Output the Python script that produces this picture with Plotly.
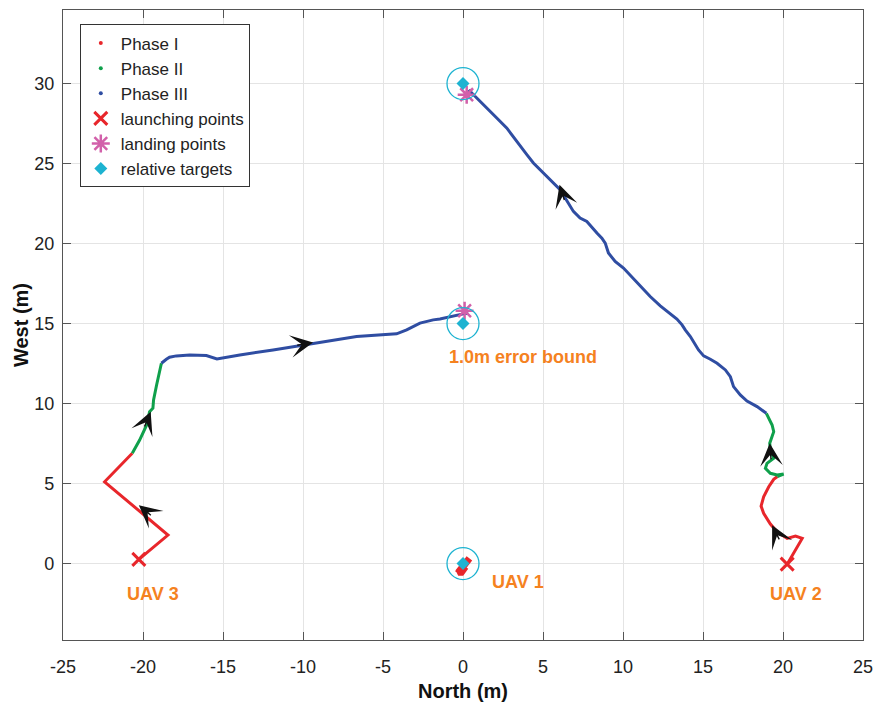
import plotly.graph_objects as go

# ---- trajectory data (North, West) in metres ----
# UAV 1 (hovers around origin)
uav1_p1_x = [-0.32, -0.20, -0.05, 0.10, 0.25, 0.40, 0.30, 0.10, -0.15, -0.30, -0.10, 0.15]
uav1_p1_y = [-0.62, -0.45, -0.25, -0.05, 0.10, 0.32, 0.15, -0.15, -0.40, -0.55, -0.55, -0.20]

# UAV 3
uav3_p1_x = [-20.26, -18.44, -22.40, -20.67]
uav3_p1_y = [0.26, 1.78, 5.11, 6.89]
uav3_p2_x = [-20.67, -20.21, -19.77, -19.59, -19.38, -19.34, -19.15, -18.92, -18.85]
uav3_p2_y = [6.89, 7.72, 8.66, 9.49, 9.71, 10.23, 11.16, 12.21, 12.52]
uav3_p3_x = [-18.85, -18.75, -18.54, -18.34, -17.92, -17.08, -16.04, -15.38, -13.95,
             -11.87, -9.37, -6.65, -4.15, -3.52, -2.69, -1.86, -1.44, -0.61, 0.23,
             0.10, 0.30, 0.20]
uav3_p3_y = [12.52, 12.62, 12.77, 12.90, 12.98, 13.04, 13.00, 12.79, 13.04,
             13.35, 13.77, 14.19, 14.36, 14.61, 15.03, 15.23, 15.28, 15.48, 15.65,
             15.72, 15.60, 15.66]

# UAV 2
uav2_p1_x = [20.26, 21.20, 20.78, 20.26, 19.63, 19.21, 18.79, 18.63, 18.79, 19.11, 19.42, 19.65]
uav2_p1_y = [-0.04, 1.57, 1.71, 1.57, 1.98, 2.47, 3.14, 3.59, 4.17, 4.80, 5.26, 5.44]
uav2_p2_x = [19.65, 20.04, 19.63, 19.21, 18.90, 19.00, 19.42, 19.21, 19.17, 19.42, 19.32, 18.96]
uav2_p2_y = [5.44, 5.59, 5.53, 5.64, 5.95, 6.26, 6.58, 7.10, 7.52, 8.24, 8.66, 9.39]
uav2_p3_x = [18.96, 18.38, 17.75, 17.33, 16.91, 16.71, 16.40, 15.88, 15.46, 15.04,
             14.72, 14.21, 13.89, 13.69, 13.37, 12.75, 12.33, 11.70, 11.08, 10.56,
             10.03, 9.51, 9.09, 8.89, 8.68, 8.37, 7.74, 7.32, 6.90, 6.07,
             5.44, 4.82, 4.40, 3.99, 3.36, 2.73, 2.11, 1.69, 1.06, 0.64,
             0.44, 0.30, 0.50, 0.40]
uav2_p3_y = [9.39, 9.81, 10.16, 10.54, 11.06, 11.68, 12.10, 12.52, 12.77, 12.98,
             13.35, 14.19, 14.61, 14.92, 15.28, 15.75, 16.11, 16.69, 17.36, 17.94,
             18.47, 18.88, 19.41, 20.03, 20.34, 20.66, 21.38, 21.60, 22.01, 23.37,
             23.99, 24.62, 25.04, 25.56, 26.39, 27.23, 27.85, 28.27, 28.89, 29.32,
             29.52, 29.45, 29.60, 29.40]

launch_x = [-20.26, 20.26]
launch_y = [0.26, -0.04]
landing_x = [0.10, 0.23]
landing_y = [15.80, 29.31]
target_x = [0.0, 0.0, 0.0]
target_y = [0.0, 15.0, 30.0]
error_bound = 1.0

# direction arrows: tip position and heading
arrow_tip_x = [-20.26, -19.52, -9.37, 19.32, 19.17, 6.03]
arrow_tip_y = [3.65, 9.49, 13.81, 2.40, 7.52, 23.68]
arrow_dir_x = [-3.96, 1.08, 2.50, -0.45, -0.08, -0.30]
arrow_dir_y = [3.33, 2.60, 0.42, 0.90, 1.00, 0.94]

x_ticks = [-25, -20, -15, -10, -5, 0, 5, 10, 15, 20, 25]
y_ticks = [0, 5, 10, 15, 20, 25, 30]

RED = "#E8262B"
GREEN = "#0FA04B"
BLUE = "#2F4DA2"
PINK = "#D260AA"
CYAN = "#1DB3D1"
ORANGE = "#F5821F"
FONT = "Liberation Sans, Arial, Helvetica, sans-serif"

fig = go.Figure()

def path(x, y, color, width=3):
    fig.add_trace(go.Scatter(x=x, y=y, mode="lines", showlegend=False,
                             line=dict(color=color, width=width), hoverinfo="skip"))

path(uav1_p1_x, uav1_p1_y, RED, 7)
for px, py, c in [(uav3_p1_x, uav3_p1_y, RED), (uav3_p2_x, uav3_p2_y, GREEN),
                  (uav3_p3_x, uav3_p3_y, BLUE), (uav2_p1_x, uav2_p1_y, RED),
                  (uav2_p2_x, uav2_p2_y, GREEN), (uav2_p3_x, uav2_p3_y, BLUE)]:
    path(px, py, c)

# legend entries for the phases (dot markers)
for name, c in [("Phase I", RED), ("Phase II", GREEN), ("Phase III", BLUE)]:
    fig.add_trace(go.Scatter(x=[None], y=[None], mode="markers", name=name,
                             marker=dict(color=c, size=4)))

fig.add_trace(go.Scatter(x=launch_x, y=launch_y, mode="markers", name="launching points",
                         marker=dict(symbol="x-thin", size=13, color=RED,
                                     line=dict(color=RED, width=3))))
fig.add_trace(go.Scatter(x=landing_x, y=landing_y, mode="markers", name="landing points",
                         marker=dict(symbol="asterisk", size=15, color=PINK,
                                     line=dict(color=PINK, width=2.5))))
fig.add_trace(go.Scatter(x=target_x, y=target_y, mode="markers", name="relative targets",
                         marker=dict(symbol="diamond", size=10, color=CYAN,
                                     line=dict(width=0))))

# 1.0 m error-bound circles around targets
for tx, ty in zip(target_x, target_y):
    fig.add_shape(type="circle", xref="x", yref="y",
                  x0=tx - error_bound, x1=tx + error_bound,
                  y0=ty - error_bound, y1=ty + error_bound,
                  line=dict(color=CYAN, width=1.3))

# heading arrows
for tx, ty, dx, dy in zip(arrow_tip_x, arrow_tip_y, arrow_dir_x, arrow_dir_y):
    n = (dx * dx + dy * dy) ** 0.5
    L = 1.1
    fig.add_annotation(x=tx, y=ty, ax=tx - dx / n * L, ay=ty - dy / n * L,
                       xref="x", yref="y", axref="x", ayref="y", text="",
                       showarrow=True, arrowhead=3, arrowsize=2.7, arrowwidth=1.4,
                       arrowcolor="#111111")

labels = [("1.0m error bound", 3.72, 12.92), ("UAV 1", 3.41, -1.15),
          ("UAV 3", -19.40, -1.91), ("UAV 2", 20.84, -1.91)]
for t, lx, ly in labels:
    fig.add_annotation(x=lx, y=ly, xref="x", yref="y", text=f"<b>{t}</b>",
                       showarrow=False, font=dict(family=FONT, size=18, color=ORANGE))

axis_common = dict(showgrid=True, gridcolor="#E4E4E4", gridwidth=1,
                   showline=True, linecolor="#555555", linewidth=1.3, mirror="ticks",
                   ticks="inside", ticklen=8, tickcolor="#555555", tickwidth=1.3,
                   zeroline=False, automargin=False,
                   tickfont=dict(family=FONT, size=18, color="#222222"))

fig.update_xaxes(range=[-25, 25], tickvals=x_ticks, ticktext=[str(v) for v in x_ticks],
                 title=dict(text="<b>North (m)</b>", font=dict(family=FONT, size=20, color="#111111"),
                            standoff=8),
                 ticklabelstandoff=10, **axis_common)
fig.update_yaxes(range=[-4.78, 34.6], tickvals=y_ticks, ticktext=[str(v) for v in y_ticks],
                 title=dict(text="<b>West (m)</b>", font=dict(family=FONT, size=20, color="#111111"),
                            standoff=0),
                 ticklabelstandoff=4, **axis_common)

fig.update_layout(
    width=875, height=703,
    margin=dict(l=63, r=12, t=10, b=63),
    plot_bgcolor="white", paper_bgcolor="white",
    font=dict(family=FONT, size=18, color="#222222"),
    legend=dict(x=0.021, y=0.977, xanchor="left", yanchor="top",
                bgcolor="white", bordercolor="#333333", borderwidth=1,
                font=dict(family=FONT, size=17, color="#222222"),
                tracegroupgap=0, itemwidth=30),
    showlegend=True,
)

fig.write_html("out.html")
